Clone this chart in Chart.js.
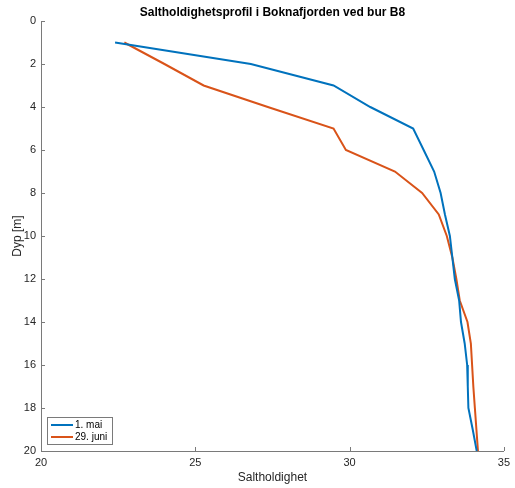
<!DOCTYPE html>
<html>
<head>
<meta charset="utf-8">
<script src="https://cdn.jsdelivr.net/npm/chart.js@4"></script>
<style>
  html, body { margin: 0; padding: 0; background: #fff; }
  #wrap { width: 515px; height: 488px; }
</style>
</head>
<body>
<div id="wrap"><canvas id="myChart" width="515" height="488"></canvas></div>
<script>
// dybde i meter
const dyp = [1, 2, 3, 4, 5, 6, 7, 8, 9, 10, 11, 12, 13, 14, 15, 16, 17, 18, 19, 20];
// saltholdighet per dybde
const mai = [22.4, 26.8, 29.48, 30.67, 32.06, 32.4, 32.74, 32.95, 33.09, 33.25, 33.33, 33.41, 33.55, 33.61, 33.73, 33.81, 33.83, 33.85, 33.99, 34.12];
const juni = [22.7, 24.0, 25.27, 27.35, 29.48, 29.88, 31.47, 32.35, 32.89, 33.15, 33.33, 33.46, 33.57, 33.82, 33.93, 33.97, 34.01, 34.06, 34.11, 34.16];
const serieNavn = ['1. mai', '29. juni'];
const xTicks = [20, 25, 30, 35];
const yTicks = [0, 2, 4, 6, 8, 10, 12, 14, 16, 18, 20];
const tittel = 'Saltholdighetsprofil i Boknafjorden ved bur B8';

const font = "'Liberation Sans', Arial, sans-serif";
const axisColor = '#7a7a7a';

function punkter(verdier) {
  return verdier.map((v, i) => ({x: v, y: dyp[i]}));
}

// tittel sentrert over selve plottet (som MATLAB)
const plotTittel = {
  id: 'plotTittel',
  afterDraw(chart) {
    const {ctx, chartArea} = chart;
    ctx.save();
    ctx.font = 'bold 12px ' + font;
    ctx.fillStyle = '#000';
    ctx.textAlign = 'center';
    ctx.textBaseline = 'middle';
    ctx.fillText(tittel, (chartArea.left + chartArea.right) / 2, 13);
    ctx.restore();
  }
};

// små tick-streker inn i plottet, som i MATLAB
const innTicks = {
  id: 'innTicks',
  afterDraw(chart) {
    const {ctx, chartArea, scales} = chart;
    ctx.save();
    ctx.strokeStyle = axisColor;
    ctx.lineWidth = 1;
    ctx.beginPath();
    xTicks.forEach(t => {
      const px = Math.round(scales.x.getPixelForValue(t)) + 0.5;
      ctx.moveTo(px, chartArea.bottom);
      ctx.lineTo(px, chartArea.bottom - 4);
    });
    yTicks.forEach(t => {
      const py = Math.round(scales.y.getPixelForValue(t)) + 0.5;
      ctx.moveTo(chartArea.left, py);
      ctx.lineTo(chartArea.left + 4, py);
    });
    ctx.stroke();
    ctx.restore();
  }
};

// legende nede til venstre inne i plottet
const innLegende = {
  id: 'innLegende',
  afterDraw(chart) {
    const {ctx, chartArea} = chart;
    const x0 = chartArea.left + 6, y0 = chartArea.bottom - 34;
    const w = 65, h = 27;
    ctx.save();
    ctx.fillStyle = '#fff';
    ctx.fillRect(x0, y0, w, h);
    ctx.strokeStyle = axisColor;
    ctx.lineWidth = 1;
    ctx.strokeRect(x0 + 0.5, y0 + 0.5, w, h);
    ctx.font = '10px ' + font;
    ctx.textBaseline = 'middle';
    chart.data.datasets.forEach((ds, i) => {
      const yy = y0 + 8 + i * 12;
      ctx.strokeStyle = ds.borderColor;
      ctx.lineWidth = 2;
      ctx.beginPath();
      ctx.moveTo(x0 + 4, yy);
      ctx.lineTo(x0 + 26, yy);
      ctx.stroke();
      ctx.fillStyle = '#000';
      ctx.fillText(ds.label, x0 + 28, yy);
    });
    ctx.restore();
  }
};

new Chart(document.getElementById('myChart'), {
  type: 'scatter',
  data: {
    datasets: [{
      label: serieNavn[0],
      data: punkter(mai),
      showLine: true,
      borderColor: '#0072BD',
      backgroundColor: '#0072BD',
      borderWidth: 2,
      pointRadius: 0,
      tension: 0
    }, {
      label: serieNavn[1],
      data: punkter(juni),
      showLine: true,
      borderColor: '#D95319',
      backgroundColor: '#D95319',
      borderWidth: 2,
      pointRadius: 0,
      tension: 0
    }]
  },
  options: {
    responsive: false,
    animation: false,
    layout: { padding: {top: 21, left: 0, right: 9, bottom: 0} },
    plugins: {
      legend: { display: false },
      tooltip: { enabled: false },
      title: { display: false }
    },
    scales: {
      x: {
        type: 'linear',
        min: 20, max: 35,
        afterBuildTicks: s => { s.ticks = xTicks.map(v => ({value: v})); },
        afterFit: s => { s.height = 37; },
        grid: { display: false, drawTicks: false },
        border: { color: axisColor, width: 1 },
        ticks: { color: '#262626', font: {family: font, size: 11}, padding: 5, maxRotation: 0 },
        title: { display: true, text: 'Saltholdighet', color: '#262626',
                 font: {family: font, size: 12}, padding: {top: 0, bottom: 3} }
      },
      y: {
        type: 'linear',
        reverse: true,
        min: 0, max: 20,
        afterBuildTicks: s => { s.ticks = yTicks.map(v => ({value: v})); },
        afterFit: s => { s.width = 41; },
        grid: { display: false, drawTicks: false },
        border: { color: axisColor, width: 1 },
        ticks: { color: '#262626', font: {family: font, size: 11}, padding: 5 },
        title: { display: true, text: 'Dyp [m]', color: '#262626',
                 font: {family: font, size: 12}, padding: {top: 10, bottom: 0} }
      }
    }
  },
  plugins: [plotTittel, innTicks, innLegende]
});
</script>
</body>
</html>
